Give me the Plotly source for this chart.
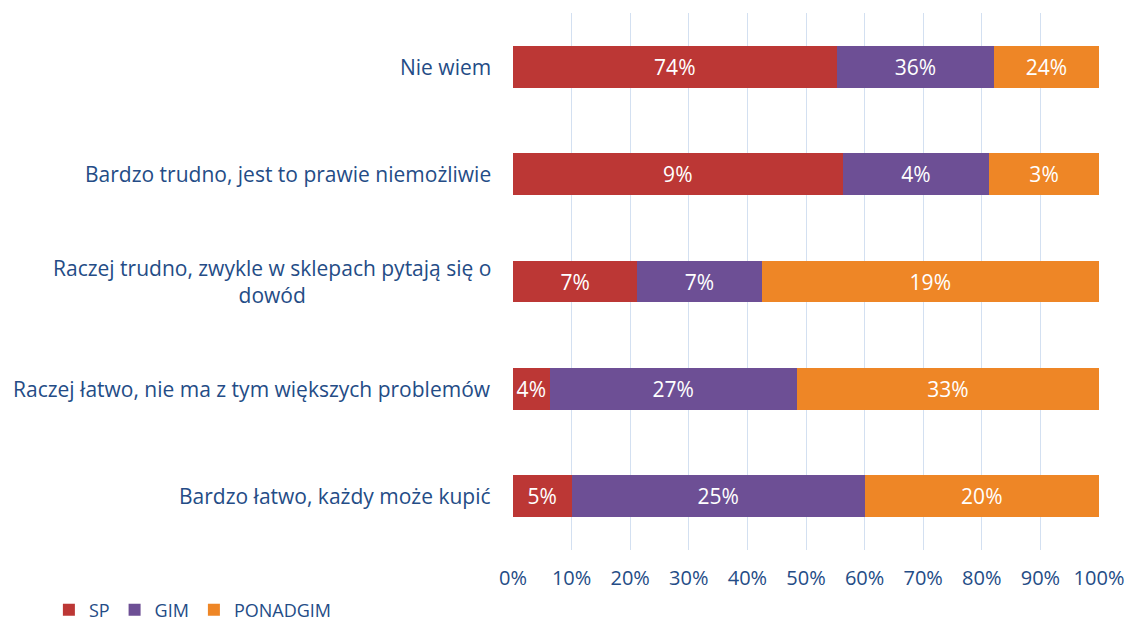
import plotly.graph_objects as go

# Answer categories (bottom to top as drawn on the y axis)
categories = [
    "Bardzo łatwo, każdy może kupić",
    "Raczej łatwo, nie ma z tym większych problemów",
    "Raczej trudno, zwykle w sklepach pytają się o<br>dowód",
    "Bardzo trudno, jest to prawie niemożliwie",
    "Nie wiem",
]
sp = [5, 4, 7, 9, 74]
gim = [25, 27, 7, 4, 36]
ponadgim = [20, 33, 19, 3, 24]

series = [
    ("SP", sp, "#BC3735"),
    ("GIM", gim, "#6D4F95"),
    ("PONADGIM", ponadgim, "#EE8626"),
]

x_ticks = list(range(0, 101, 10))
tick_text = [f"{v}%" for v in x_ticks]

FONT = "Open Sans, sans-serif"
BLUE = "#244C86"

fig = go.Figure()
for name, vals, color in series:
    fig.add_trace(go.Bar(
        y=categories, x=vals, name=name, orientation="h",
        marker=dict(color=color, line=dict(width=0)),
        text=[f"{v}%" for v in vals], textposition="inside",
        insidetextanchor="middle", textangle=0, constraintext="none",
        textfont=dict(color="white", size=21, family=FONT),
        cliponaxis=False,
    ))

# Category labels, right-aligned beside the axis, multi-line centred
for cat in categories:
    fig.add_annotation(
        x=0, y=cat, xref="paper", yref="y", text=cat,
        xanchor="right", yanchor="middle", align="center", xshift=-20,
        showarrow=False, font=dict(size=21, color=BLUE, family=FONT),
    )

fig.update_layout(
    barmode="stack", barnorm="percent", bargap=0.61,
    width=1128, height=628,
    margin=dict(l=513, r=29, t=13, b=78, autoexpand=False),
    paper_bgcolor="white", plot_bgcolor="white",
    font=dict(family=FONT, color=BLUE),
    uniformtext=dict(minsize=10, mode="show"),
    legend=dict(
        orientation="h", x=-0.792, y=-0.112, xanchor="left", yanchor="middle",
        font=dict(size=18, color=BLUE, family=FONT), traceorder="normal",
        itemwidth=30,
    ),
    showlegend=True,
)
fig.update_xaxes(
    range=[0, 100.0001], tickvals=x_ticks, ticktext=tick_text, automargin=False,
    showgrid=True, gridcolor="#D3E0F1", gridwidth=1,
    zeroline=False, showline=False,
    tickfont=dict(size=20, color=BLUE, family=FONT), ticklen=0, ticklabelstandoff=14,
)
fig.update_yaxes(showticklabels=False, showgrid=False, zeroline=False, automargin=False)

fig.write_html("out.html")
